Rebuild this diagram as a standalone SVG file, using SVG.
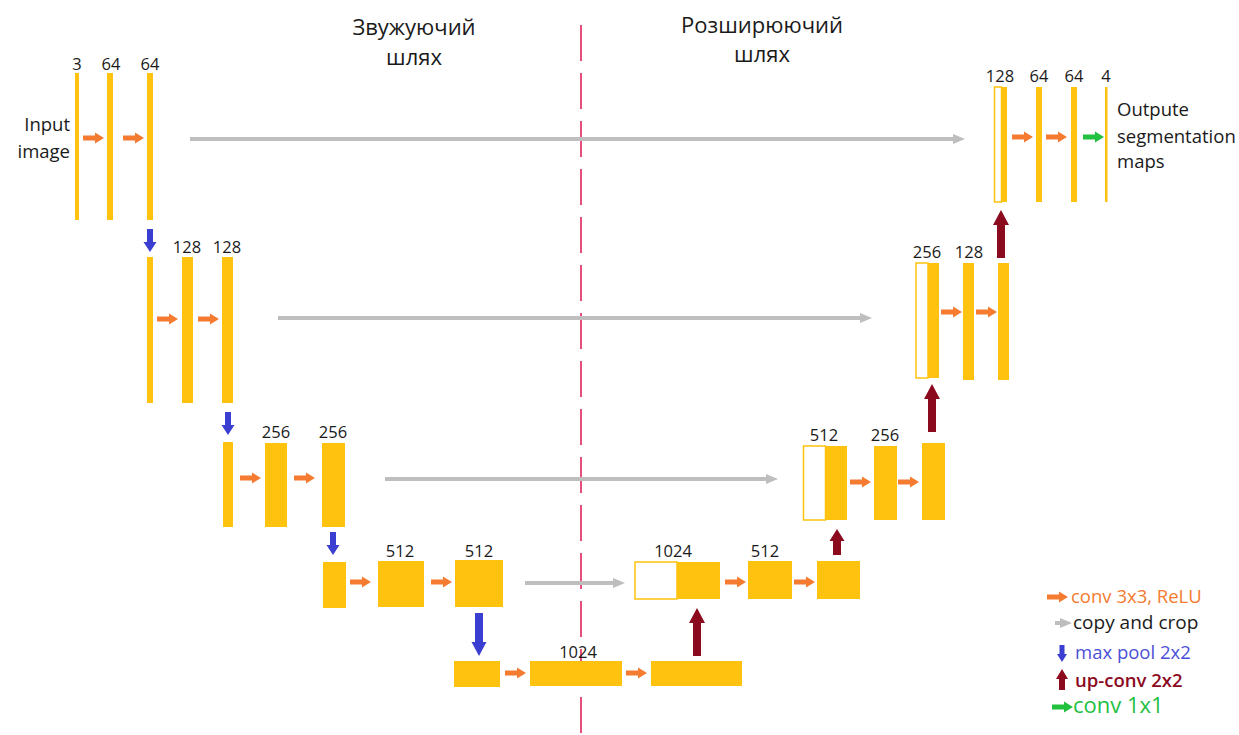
<svg xmlns="http://www.w3.org/2000/svg" xmlns:xlink="http://www.w3.org/1999/xlink" width="1239" height="735" viewBox="0 0 1239 735">
<defs>
<style>
text{font-family:"Open Sans","Noto Sans","Liberation Sans",sans-serif;fill:#1a1a1a}
.num{font-size:16.5px;text-anchor:middle}
.lbl{font-size:18.5px}
.title{font-size:22px;text-anchor:middle}
.bar{fill:#FFC20E}
.open{fill:#ffffff;stroke:#FFC20E;stroke-width:1.5}
.copy{stroke:#BEBEBE;stroke-width:4;fill:none;marker-end:url(#gh)}
.oa{fill:#F47B2F}
.ga{fill:#22C03F}
.bd{fill:#3A3FD2}
.ur{fill:#8B0A1E}
.leg{font-size:18.5px}
</style>
<marker id="gh" markerUnits="userSpaceOnUse" markerWidth="12" markerHeight="12" refX="2" refY="6" orient="auto">
<path d="M0,1 L12,6 L0,11 Z" fill="#BEBEBE"/>
</marker>
<path id="oa" d="M0,-2.5 H12 V-5.5 L21,0 L12,5.5 V2.5 H0 Z"/>
<path id="bds" d="M-3,0 V13 H-6.5 L0,23 L6.5,13 H3 V0 Z"/>
<path id="bdl" d="M-4,0 V29 H-7.5 L0,43 L7.5,29 H4 V0 Z"/>
<path id="url" d="M-4,48 V15 H-8 L0,0 L8,15 H4 V48 Z"/>
<path id="urs" d="M-4,26 V12 H-7.5 L0,0 L7.5,12 H4 V26 Z"/>
</defs>
<rect width="1239" height="735" fill="#ffffff"/>

<!-- center divider -->
<line x1="581" y1="25" x2="581" y2="735" stroke="#E0245A" stroke-width="1.6" stroke-dasharray="36 12"/>

<!-- titles -->
<text class="title" x="414" y="35">Звужуючий</text>
<text class="title" x="414" y="65">шлях</text>
<text class="title" x="762" y="33">Розширюючий</text>
<text class="title" x="762" y="62">шлях</text>

<!-- connectors -->
<g id="connectors">
<line class="copy" x1="190" y1="139" x2="955" y2="139"/>
<line class="copy" x1="278" y1="318" x2="862" y2="318"/>
<line class="copy" x1="385" y1="479" x2="768" y2="479"/>
<line class="copy" x1="525" y1="583" x2="615" y2="583"/>

<use href="#oa" class="oa" x="83" y="138"/>
<use href="#oa" class="oa" x="123" y="138"/>
<use href="#oa" class="oa" x="1012" y="137"/>
<use href="#oa" class="oa" x="1046" y="137"/>
<use href="#oa" class="ga" x="1083" y="137"/>

<use href="#oa" class="oa" x="157" y="319"/>
<use href="#oa" class="oa" x="198" y="319"/>
<use href="#oa" class="oa" x="941" y="312"/>
<use href="#oa" class="oa" x="976" y="312"/>

<use href="#oa" class="oa" x="240" y="478"/>
<use href="#oa" class="oa" x="294" y="478"/>
<use href="#oa" class="oa" x="850" y="482"/>
<use href="#oa" class="oa" x="898" y="482"/>

<use href="#oa" class="oa" x="350" y="582"/>
<use href="#oa" class="oa" x="431" y="582"/>
<use href="#oa" class="oa" x="725" y="582"/>
<use href="#oa" class="oa" x="794" y="582"/>

<use href="#oa" class="oa" x="505" y="673"/>
<use href="#oa" class="oa" x="626" y="673"/>

<use href="#bds" class="bd" x="150" y="229"/>
<use href="#bds" class="bd" x="228" y="412"/>
<use href="#bds" class="bd" x="333" y="532"/>
<use href="#bdl" class="bd" x="479" y="613"/>

<use href="#url" class="ur" x="697" y="608"/>
<use href="#urs" class="ur" x="837" y="529"/>
<use href="#url" class="ur" x="932" y="384"/>
<use href="#url" class="ur" x="1001" y="210"/>
</g>

<!-- level 1 contracting -->
<g id="n-in3"><rect class="bar" x="75" y="73" width="4" height="147"/><text class="num" x="77" y="70">3</text></g>
<g id="n-c1a"><rect class="bar" x="107" y="73" width="6" height="147"/><text class="num" x="111" y="70">64</text></g>
<g id="n-c1b"><rect class="bar" x="147" y="73" width="6" height="147"/><text class="num" x="150" y="70">64</text></g>
<g id="t-input"><text class="lbl" x="70" y="131" text-anchor="end">Input</text><text class="lbl" x="70" y="158" text-anchor="end">image</text></g>

<!-- level 2 contracting -->
<g id="n-p2"><rect class="bar" x="147" y="257" width="6" height="146"/></g>
<g id="n-c2a"><rect class="bar" x="182" y="257" width="11" height="146"/><text class="num" x="187" y="253">128</text></g>
<g id="n-c2b"><rect class="bar" x="222" y="257" width="11" height="146"/><text class="num" x="227" y="253">128</text></g>

<!-- level 3 contracting -->
<g id="n-p3"><rect class="bar" x="223" y="442" width="10" height="85"/></g>
<g id="n-c3a"><rect class="bar" x="265" y="443" width="22" height="84"/><text class="num" x="276" y="438">256</text></g>
<g id="n-c3b"><rect class="bar" x="322" y="443" width="23" height="84"/><text class="num" x="333" y="438">256</text></g>

<!-- level 4 contracting -->
<g id="n-p4"><rect class="bar" x="323" y="562" width="23" height="46"/></g>
<g id="n-c4a"><rect class="bar" x="378" y="561" width="46" height="46"/><text class="num" x="400" y="557">512</text></g>
<g id="n-c4b"><rect class="bar" x="455" y="560" width="48" height="47"/><text class="num" x="479" y="557">512</text></g>

<!-- bottleneck -->
<g id="n-p5"><rect class="bar" x="454" y="661" width="46" height="26"/></g>
<g id="n-b1"><rect class="bar" x="530" y="661" width="92" height="25"/><text class="num" x="578" y="658">1024</text></g>
<g id="n-b2"><rect class="bar" x="651" y="661" width="91" height="25"/></g>

<!-- level 4 expanding -->
<g id="n-e4cat"><rect class="open" x="635" y="562" width="42" height="37"/><rect class="bar" x="677" y="562" width="43" height="37"/><text class="num" x="673" y="557">1024</text></g>
<g id="n-e4a"><rect class="bar" x="748" y="561" width="44" height="38"/><text class="num" x="765" y="557">512</text></g>
<g id="n-e4b"><rect class="bar" x="817" y="561" width="43" height="38"/></g>

<!-- level 3 expanding -->
<g id="n-e3cat"><rect class="open" x="803.5" y="446" width="22" height="74"/><rect class="bar" x="825" y="446" width="22" height="74"/><text class="num" x="824" y="441">512</text></g>
<g id="n-e3a"><rect class="bar" x="874" y="446" width="23" height="74"/><text class="num" x="885" y="441">256</text></g>
<g id="n-e3b"><rect class="bar" x="922" y="443" width="23" height="77"/></g>

<!-- level 2 expanding -->
<g id="n-e2cat"><rect class="open" x="916" y="263" width="12" height="115"/><rect class="bar" x="928" y="263" width="11" height="115"/><text class="num" x="927" y="258">256</text></g>
<g id="n-e2a"><rect class="bar" x="963" y="263" width="11" height="117"/><text class="num" x="969" y="258">128</text></g>
<g id="n-e2b"><rect class="bar" x="998" y="263" width="11" height="117"/></g>

<!-- level 1 expanding -->
<g id="n-e1cat"><rect class="open" x="994.5" y="87" width="7" height="115"/><rect class="bar" x="1001" y="87" width="6" height="115"/><text class="num" x="1000" y="82">128</text></g>
<g id="n-e1a"><rect class="bar" x="1036" y="87" width="6" height="115"/><text class="num" x="1039" y="82">64</text></g>
<g id="n-e1b"><rect class="bar" x="1071" y="87" width="6" height="115"/><text class="num" x="1074" y="82">64</text></g>
<g id="n-out"><rect class="bar" x="1105" y="87" width="2.5" height="115"/><text class="num" x="1106" y="82">4</text></g>
<g id="t-output"><text class="lbl" x="1117" y="116">Outpute</text><text class="lbl" x="1117" y="143">segmentation</text><text class="lbl" x="1117" y="168">maps</text></g>

<!-- legend -->
<g id="legend">
<use href="#oa" class="oa" x="1047" y="597"/>
<text class="leg" x="1071" y="603" style="fill:#F47B2F">conv 3x3, ReLU</text>
<line x1="1055" y1="623" x2="1062" y2="623" stroke="#BEBEBE" stroke-width="4" marker-end="url(#gh)"/>
<text class="leg" x="1073" y="629" style="font-size:19px;fill:#1a1a1a">copy and crop</text>
<path class="bd" d="M1059.5,645 V654 H1057 L1062,662 L1067,654 H1064.5 V645 Z"/>
<text class="leg" x="1075" y="659" style="font-size:18.5px;fill:#4B4FD6">max pool 2x2</text>
<path class="ur" d="M1059,690 V679 H1056 L1062,669 L1068,679 H1065 V690 Z"/>
<text class="leg" x="1075" y="687" style="fill:#8B0A1E;font-weight:600">up-conv 2x2</text>
<use href="#oa" class="ga" x="1052" y="707"/>
<text x="1073" y="713" style="font-size:22px;fill:#22C03F">conv 1x1</text>
</g>
</svg>
